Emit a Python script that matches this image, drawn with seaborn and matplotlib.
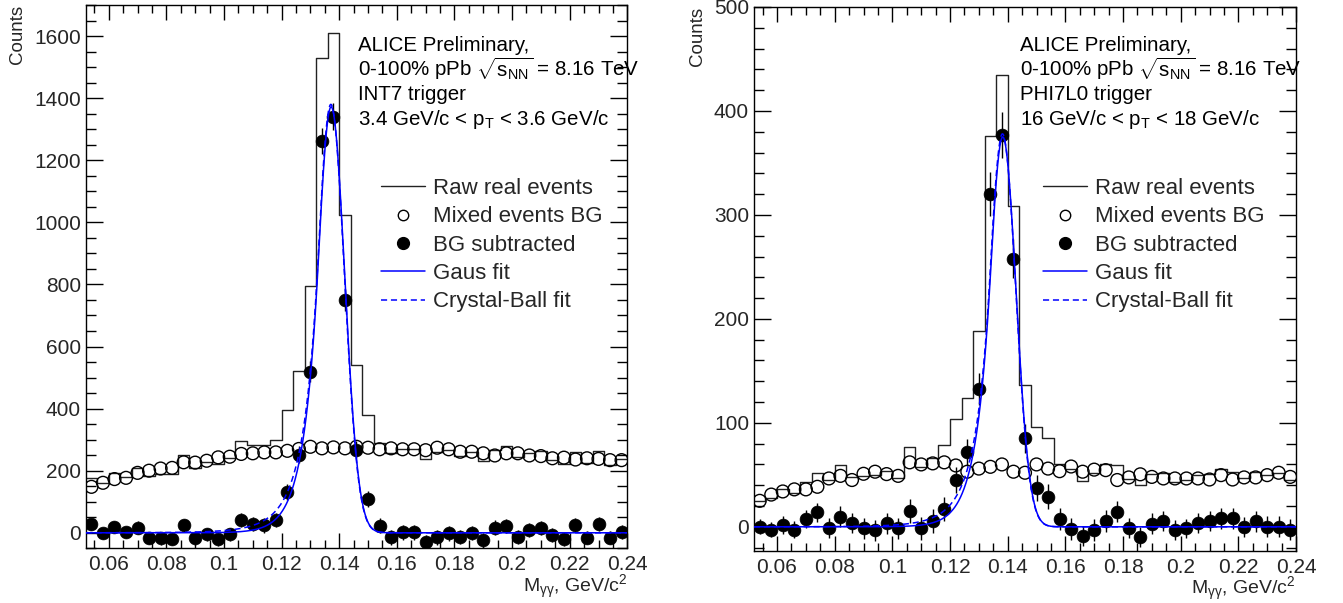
import numpy as np
import pandas as pd
import matplotlib
matplotlib.use("Agg")
import matplotlib.pyplot as plt
import seaborn as sns
from matplotlib.ticker import MultipleLocator, FuncFormatter
from matplotlib.lines import Line2D

# ---------------- data ----------------
bin_centers = np.round(0.054 + 0.004 * np.arange(47), 3)
mass_range = (0.052, 0.240)

left_raw = [175, 159, 192, 180, 210, 182, 189, 188, 251, 208, 227, 222, 240, 295, 284, 283,
            300, 396, 522, 795, 1528, 1611, 1023, 540, 381, 290, 257, 270, 270, 237, 259,
            267, 246, 259, 232, 266, 278, 243, 258, 263, 233, 221, 260, 224, 265, 218, 237]
left_mixed = [148, 161, 173, 177, 193, 200, 207, 209, 227, 226, 232, 243, 245, 254, 256, 259,
              259, 264, 270, 277, 272, 275, 272, 277, 274, 269, 272, 269, 269, 266, 274,
              269, 261, 261, 256, 249, 256, 256, 249, 247, 240, 242, 236, 240, 238, 234, 234]
left_sub = [27, -2, 19, 1, 17, -18, -18, -21, 24, -18, -5, -21, -5, 41, 28, 24,
            41, 132, 252, 519, 1262, 1340, 750, 268, 109, 23, -15, 1, 1, -29, -15,
            -2, -15, -2, -24, 17, 22, -13, 9, 16, -7, -21, 24, -16, 27, -16, 3]

right_raw = [25, 28, 36, 33, 43, 52, 45, 59, 48, 49, 50, 54, 47, 77, 58, 66,
             79, 104, 124, 188, 376, 435, 309, 136, 96, 85, 60, 56, 44, 52, 60,
             59, 46, 40, 51, 52, 43, 45, 50, 51, 56, 53, 47, 53, 50, 52, 45]
right_mixed = [25, 31, 34, 36, 36, 38.5, 46.5, 49, 45, 51, 53, 50.7, 49, 62, 60, 61,
               62, 59, 53, 56, 57.7, 60, 53, 52, 60, 56, 53.5, 58, 53, 55, 54.5,
               45, 47.5, 50.5, 48, 46.5, 46.5, 46.5, 46.5, 45.5, 49.7, 45.5, 47.5, 47.5, 49.7, 52, 48]
right_sub = [0, -2.6, 1.6, -2.6, 7.4, 13.8, -1, 9.9, 3.5, -1.6, -3.2, 3.5, -1.6, 15, -1.6, 5.5,
             17, 45, 71.5, 132.5, 320, 377, 258, 85, 37, 29, 7.4, -2.3, -8.7, -3.2, 5.5,
             14.5, -1, -9.6, 2.9, 5.5, -3.2, -1.6, 3.5, 5.5, 8, 8, 0, 5.5, 0, 0, -2.6]

# Gaussian core with exponential low-mass tail: amplitude, mean, sigma, k
left_gaus_pars = [1372, 0.1372, 0.0047, 0.95]
right_gaus_pars = [375, 0.1383, 0.0046, 0.95]
# Crystal Ball: amplitude, mean, sigma, alpha, n
left_cb_pars = [1380, 0.1371, 0.0047, 0.95, 8.0]
right_cb_pars = [378, 0.1382, 0.0046, 0.95, 8.0]

left_text = ["ALICE Preliminary,",
             r"0-100% pPb $\sqrt{\mathrm{s}_{\mathrm{NN}}}$ = 8.16 TeV",
             "INT7 trigger",
             r"3.4 GeV/c < p$_{\mathrm{T}}$ < 3.6 GeV/c"]
right_text = ["ALICE Preliminary,",
              r"0-100% pPb $\sqrt{\mathrm{s}_{\mathrm{NN}}}$ = 8.16 TeV",
              "PHI7L0 trigger",
              r"16 GeV/c < p$_{\mathrm{T}}$ < 18 GeV/c"]
legend_labels = ["Raw real events", "Mixed events BG", "BG subtracted", "Gaus fit", "Crystal-Ball fit"]


def gaus_exp(x, A, M, s, k):
    z = (x - M) / s
    return A * np.where(z > -k, np.exp(-0.5 * z * z), np.exp(0.5 * k * k + k * z))


def crystal_ball(x, A, M, s, a, n):
    z = (x - M) / s
    acb = (n / a) ** n * np.exp(-a * a / 2)
    b = n / a - a
    tail = acb * np.maximum(b - z, 1e-9) ** (-n)
    return A * np.where(z > -a, np.exp(-0.5 * z * z), tail)


# ---------------- style ----------------
sns.set_theme(style="ticks")
plt.rcParams["font.family"] = ["Liberation Sans", "DejaVu Sans"]
plt.rcParams["mathtext.fontset"] = "custom"
plt.rcParams["mathtext.rm"] = "Liberation Sans"
plt.rcParams["mathtext.it"] = "Liberation Sans:italic"
plt.rcParams["mathtext.bf"] = "Liberation Sans:bold"
plt.rcParams["mathtext.sf"] = "Liberation Sans"

fig = plt.figure(figsize=(13.43, 6.03), dpi=100)
ax_l = fig.add_axes([0.0638, 0.0907, 0.4033, 0.901])
ax_r = fig.add_axes([0.5614, 0.0867, 0.4036, 0.9017])

panels = [
    (ax_l, left_raw, left_mixed, left_sub, left_gaus_pars, left_cb_pars, left_text,
     (-50, 1700), 200, 50, 0.503, 0.545),
    (ax_r, right_raw, right_mixed, right_sub, right_gaus_pars, right_cb_pars, right_text,
     (-23, 500), 100, 20, 0.491, 0.533),
]

xfine = np.linspace(0.052, 0.240, 1500)

for (ax, raw, mixed, sub, gp, cbp, txt, ylim, ymaj, ymin_, tx, lx) in panels:
    df = pd.DataFrame({"m": bin_centers, "raw": raw, "mixed": mixed, "sub": sub})
    df["err"] = np.sqrt(df["raw"] + df["mixed"])

    sns.histplot(data=df, x="m", weights="raw", bins=len(bin_centers), binrange=mass_range,
                 element="step", fill=False, color="#222222", linewidth=1.0, ax=ax, zorder=2)
    sns.scatterplot(data=df, x="m", y="mixed", marker="o", s=85, facecolor="none",
                    edgecolor="black", linewidth=1.0, ax=ax, zorder=3)
    ax.errorbar(df["m"], df["sub"], yerr=df["err"], fmt="none", ecolor="black",
                elinewidth=1.0, capsize=0, zorder=4)
    sns.scatterplot(data=df, x="m", y="sub", marker="o", s=85, color="black",
                    edgecolor="black", linewidth=0.5, ax=ax, zorder=5)

    fits = pd.DataFrame({"m": xfine, "gaus": gaus_exp(xfine, *gp), "cb": crystal_ball(xfine, *cbp)})
    sns.lineplot(data=fits, x="m", y="gaus", color="#0000ff", linewidth=1.1, ax=ax, zorder=6)
    sns.lineplot(data=fits, x="m", y="cb", color="#0000ff", linewidth=1.1, linestyle=(0, (4, 2.5)),
                 ax=ax, zorder=6)

    ax.set_xlim(*mass_range)
    ax.set_ylim(*ylim)
    ax.xaxis.set_major_locator(MultipleLocator(0.02))
    ax.xaxis.set_minor_locator(MultipleLocator(0.005))
    ax.yaxis.set_major_locator(MultipleLocator(ymaj))
    ax.yaxis.set_minor_locator(MultipleLocator(ymin_))
    ax.xaxis.set_major_formatter(FuncFormatter(lambda v, p: "%g" % round(v, 3)))
    ax.yaxis.set_major_formatter(FuncFormatter(lambda v, p: "%g" % v))
    ax.tick_params(axis="both", which="both", direction="in", top=True, right=True,
                   labelsize=15, color="black")
    ax.tick_params(axis="x", which="major", length=10.8, width=1.0, pad=5)
    ax.tick_params(axis="x", which="minor", length=6, width=1.0)
    ax.tick_params(axis="y", which="major", length=12.5, width=1.0, pad=3.5)
    ax.tick_params(axis="y", which="minor", length=7, width=1.0)
    for sp in ax.spines.values():
        sp.set_linewidth(1.0)
        sp.set_color("black")

    ax.set_xlabel(r"M$_{\mathrm{\gamma\gamma}}$, GeV/c$^{2}$", fontsize=14, loc="right", labelpad=-1)
    ax.set_ylabel("Counts", fontsize=13.5, loc="top", labelpad=6)

    base_px = [51, 76, 100, 125]
    h_px = ax.get_position().height * 603
    top_px = (1 - ax.get_position().y1) * 603
    for t, b in zip(txt, base_px):
        ax.text(tx, 1 - (b - top_px) / h_px, t, transform=ax.transAxes, fontsize=14.8,
                ha="left", va="baseline", color="black")

    handles = [
        Line2D([], [], color="#222222", linewidth=1.0),
        Line2D([], [], linestyle="none", marker="o", markersize=7.5, markerfacecolor="none",
               markeredgecolor="black", markeredgewidth=1.0),
        Line2D([], [], linestyle="none", marker="o", markersize=8.5, markerfacecolor="black",
               markeredgecolor="black"),
        Line2D([], [], color="#0000ff", linewidth=1.1),
        Line2D([], [], color="#0000ff", linewidth=1.1, linestyle=(0, (4, 2.5))),
    ]
    leg_top = 1 - (178 - top_px) / h_px
    ax.legend(handles, legend_labels, loc="upper left", bbox_to_anchor=(lx, leg_top),
              frameon=False, fontsize=16, handlelength=1.98, handletextpad=0.36,
              labelspacing=0.33, borderpad=0, borderaxespad=0)

fig.savefig("out.png", dpi=100)
